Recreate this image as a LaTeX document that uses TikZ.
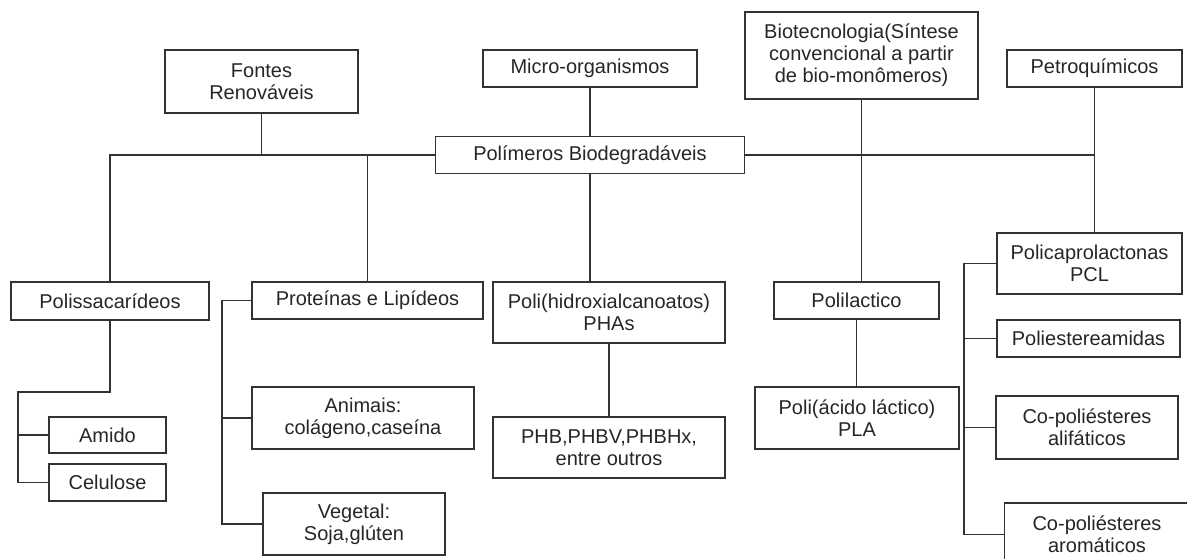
\documentclass[tikz,border=0pt]{standalone}
\usepackage{fontspec}
\setmainfont{Liberation Sans}
\begin{document}
\begin{tikzpicture}[x=1pt,y=-1pt,
  box/.style={draw=black!80, line width=1.1pt, fill=white, align=center, inner sep=1pt,
    font=\fontsize{20}{22}\selectfont, text=black!85},
  conn/.style={draw=black!80, line width=1.1pt}]
\useasboundingbox[fill=white] (0,0) rectangle (1187,559);
\begin{scope}
\clip (0,0) rectangle (1187,559);
% top row
\node[box, minimum width=193pt, minimum height=63pt] (fontes) at (261.5,81.5) {Fontes\\Renováveis};
\node[box, minimum width=214pt, minimum height=37pt] (micro) at (590,68.5) {Micro-organismos};
\node[box, minimum width=309pt, minimum height=37pt] (poli) at (590,155) {Polímeros Biodegradáveis};
\node[box, minimum width=233pt, minimum height=87pt] (biotec) at (861.5,55.5) {Biotecnologia(Síntese\\convencional a partir\\de bio-monômeros)};
\node[box, minimum width=175pt, minimum height=37pt] (petro) at (1094.5,68.5) {Petroquímicos};
% middle row
\node[box, minimum width=198pt, minimum height=38pt] (polis) at (110,301) {Polissacarídeos};
\node[box, minimum width=231pt, minimum height=37pt] (prot) at (367.5,300.5) {Proteínas e Lipídeos};
\node[box, minimum width=232pt, minimum height=61pt] (pha) at (609,312.5) {Poli(hidroxialcanoatos)\\PHAs};
\node[box, minimum width=165pt, minimum height=37pt] (pla) at (856.5,300.5) {Polilactico};
\node[box, minimum width=185pt, minimum height=61pt] (pcl) at (1089.5,263.5) {Policaprolactonas\\PCL};
% lower boxes
\node[box, minimum width=117pt, minimum height=36pt] (amido) at (107.5,435) {Amido};
\node[box, minimum width=117pt, minimum height=37pt] (celulose) at (107.5,482.5) {Celulose};
\node[box, minimum width=222pt, minimum height=62pt] (animais) at (363,418) {Animais:\\colágeno,caseína};
\node[box, minimum width=182pt, minimum height=62pt] (vegetal) at (354,524) {Vegetal:\\Soja,glúten};
\node[box, minimum width=232pt, minimum height=61pt] (phb) at (609,447.5) {PHB,PHBV,PHBHx,\\entre outros};
\node[box, minimum width=204pt, minimum height=62pt] (plab) at (857,418) {Poli(ácido láctico)\\PLA};
\node[box, minimum width=183pt, minimum height=37pt] (pea) at (1088.5,338.5) {Poliestereamidas};
\node[box, minimum width=182pt, minimum height=63pt] (alif) at (1087,427.5) {Co-poliésteres\\alifáticos};
\node[box, minimum width=185pt, minimum height=63pt] (arom) at (1097,534.5) {Co-poliésteres\\aromáticos};
% coordinates of the buses
\coordinate (pa) at (18,392);
\coordinate (pb) at (222,300.5);
\coordinate (pc) at (964,263.5);
% top connectors
\draw[conn] (polis.north) |- (poli.west);
\draw[conn] (fontes.south) -- (fontes.south |- poli.west);
\draw[conn] (prot.north) -- (prot.north |- poli.west);
\draw[conn] (micro.south) -- (poli.north);
\draw[conn] (poli.south) -- (poli.south |- pha.north);
\draw[conn] (poli.east) -- (poli.east -| petro.south);
\draw[conn] (biotec.south) -- (biotec.south |- pla.north);
\draw[conn] (petro.south) -- (petro.south |- pcl.north);
% lower connectors
\draw[conn] (pha.south) -- (phb.north);
\draw[conn] (pla.south) -- (pla.south |- plab.north);
\draw[conn] (polis.south) |- (pa) |- (celulose.west);
\draw[conn] (pa |- amido.west) -- (amido.west);
\draw[conn] (prot.west) -- (pb) |- (vegetal.west);
\draw[conn] (pb |- animais.west) -- (animais.west);
\draw[conn] (pcl.west) -- (pc) |- (arom.west);
\draw[conn] (pc |- pea.west) -- (pea.west);
\draw[conn] (pc |- alif.west) -- (alif.west);
\end{scope}
\end{tikzpicture}
\end{document}
